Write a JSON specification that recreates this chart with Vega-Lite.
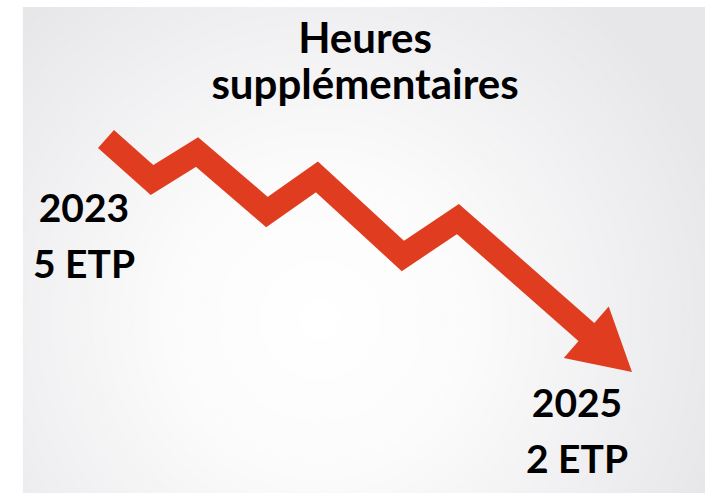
{
  "$schema": "https://vega.github.io/schema/vega-lite/v6.json",
  "usermeta": {"embedOptions": {"actions": false}},
  "width": 705,
  "height": 493,
  "autosize": {"type": "none"},
  "padding": 0,
  "background": "#e7e7ea",
  "config": {"view": {"stroke": null}},
  "datasets": {
    "trend": [
      {"year": 2023.000, "etp": 5.000},
      {"year": 2023.175, "etp": 4.472},
      {"year": 2023.346, "etp": 4.833},
      {"year": 2023.612, "etp": 4.060},
      {"year": 2023.802, "etp": 4.511},
      {"year": 2024.129, "etp": 3.494},
      {"year": 2024.338, "etp": 3.970},
      {"year": 2024.848, "etp": 2.451}
    ],
    "endpoints": [
      {"year": 2023, "etp": 5, "label": ["2023", "5 ETP"]},
      {"year": 2025, "etp": 2, "label": ["2025", "2 ETP"]}
    ]
  },
  "layer": [
    {
      "data": {"values": [{}]},
      "mark": {"type": "rect", "fill": "#ffffff"},
      "encoding": {
        "x": {"datum": 2022.597, "type": "quantitative", "scale": {"domain": [2022.597, 2025.2776], "nice": false, "zero": false}, "axis": null},
        "x2": {"datum": 2022.684},
        "y": {"datum": 6.7897, "type": "quantitative", "scale": {"domain": [0.4421, 6.7897], "nice": false, "zero": false}, "axis": null},
        "y2": {"datum": 0.4421}
      }
    },
    {
      "data": {"values": [{}]},
      "mark": {"type": "rect", "fill": "#ffffff"},
      "encoding": {
        "x": {"datum": 2022.597, "type": "quantitative", "scale": {"domain": [2022.597, 2025.2776], "nice": false, "zero": false}, "axis": null},
        "x2": {"datum": 2025.2776},
        "y": {"datum": 6.7897, "type": "quantitative", "scale": {"domain": [0.4421, 6.7897], "nice": false, "zero": false}, "axis": null},
        "y2": {"datum": 6.6996}
      }
    },
    {
      "data": {"values": [{}]},
      "mark": {
        "type": "point",
        "shape": "circle",
        "filled": true,
        "opacity": 1,
        "strokeWidth": 0,
        "size": 705600,
        "fill": {
          "gradient": "radial",
          "x1": 0.5, "y1": 0.5, "r1": 0,
          "x2": 0.5, "y2": 0.5, "r2": 0.5,
          "stops": [
            {"offset": 0, "color": "rgba(255,255,255,1)"},
            {"offset": 0.35, "color": "rgba(255,255,255,0.85)"},
            {"offset": 0.7, "color": "rgba(255,255,255,0.4)"},
            {"offset": 1, "color": "rgba(255,255,255,0)"}
          ]
        }
      },
      "encoding": {
        "x": {"datum": 2023.814, "type": "quantitative", "scale": {"domain": [2022.597, 2025.2776], "nice": false, "zero": false}, "axis": null},
        "y": {"datum": 2.6695, "type": "quantitative", "scale": {"domain": [0.4421, 6.7897], "nice": false, "zero": false}, "axis": null}
      }
    },
    {
      "data": {"name": "trend"},
      "mark": {"type": "line", "color": "#e03c1f", "strokeWidth": 24, "strokeCap": "butt", "strokeJoin": "miter", "strokeMiterLimit": 10},
      "encoding": {
        "x": {"field": "year", "type": "quantitative", "scale": {"domain": [2022.597, 2025.2776], "nice": false, "zero": false}, "axis": null},
        "y": {"field": "etp", "type": "quantitative", "scale": {"domain": [0.4421, 6.7897], "nice": false, "zero": false}, "axis": null}
      }
    },
    {
      "data": {"name": "endpoints"},
      "transform": [{"filter": "datum.year == 2025"}],
      "mark": {"type": "point", "shape": "M0,0L-1,-0.565L-1,0.565Z", "filled": true, "size": 14690, "angle": 41, "color": "#e03c1f", "opacity": 1, "strokeWidth": 0},
      "encoding": {
        "x": {"field": "year", "type": "quantitative", "scale": {"domain": [2022.597, 2025.2776], "nice": false, "zero": false}, "axis": null},
        "y": {"field": "etp", "type": "quantitative", "scale": {"domain": [0.4421, 6.7897], "nice": false, "zero": false}, "axis": null}
      }
    },
    {
      "data": {"name": "endpoints"},
      "transform": [{"filter": "datum.year == 2023"}],
      "mark": {"type": "text", "font": "Lato", "fontWeight": "bold", "fontSize": 39, "lineHeight": 56, "align": "center", "baseline": "alphabetic", "dx": -22, "dy": 83, "color": "#000000"},
      "encoding": {
        "x": {"field": "year", "type": "quantitative", "scale": {"domain": [2022.597, 2025.2776], "nice": false, "zero": false}, "axis": null},
        "y": {"field": "etp", "type": "quantitative", "scale": {"domain": [0.4421, 6.7897], "nice": false, "zero": false}, "axis": null},
        "text": {"field": "label"}
      }
    },
    {
      "data": {"name": "endpoints"},
      "transform": [{"filter": "datum.year == 2025"}],
      "mark": {"type": "text", "font": "Lato", "fontWeight": "bold", "fontSize": 39, "lineHeight": 56, "align": "center", "baseline": "alphabetic", "dx": -55, "dy": 45, "color": "#000000"},
      "encoding": {
        "x": {"field": "year", "type": "quantitative", "scale": {"domain": [2022.597, 2025.2776], "nice": false, "zero": false}, "axis": null},
        "y": {"field": "etp", "type": "quantitative", "scale": {"domain": [0.4421, 6.7897], "nice": false, "zero": false}, "axis": null},
        "text": {"field": "label"}
      }
    },
    {
      "data": {"values": [{}]},
      "mark": {"type": "text", "font": "Lato", "fontWeight": "bold", "fontSize": 42, "lineHeight": 46, "align": "center", "baseline": "alphabetic", "color": "#000000", "text": ["Heures", "supplémentaires"]},
      "encoding": {
        "x": {"datum": 2023.985, "type": "quantitative", "scale": {"domain": [2022.597, 2025.2776], "nice": false, "zero": false}, "axis": null},
        "y": {"datum": 6.1073, "type": "quantitative", "scale": {"domain": [0.4421, 6.7897], "nice": false, "zero": false}, "axis": null}
      }
    }
  ]
}
